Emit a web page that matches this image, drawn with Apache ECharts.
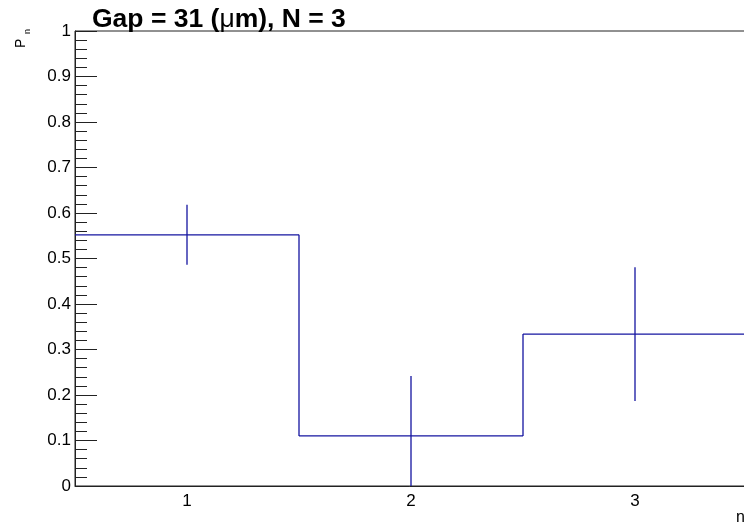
<!DOCTYPE html>
<html>
<head>
<meta charset="utf-8">
<script src="https://cdn.jsdelivr.net/npm/echarts@6/dist/echarts.min.js"></script>
<style>html,body{margin:0;padding:0;background:#fff;}#c{width:744px;height:532px;}</style>
</head>
<body>
<div id="c"></div>
<script>
var categories = ['1', '2', '3'];
var values = [0.552, 0.110, 0.334];
var errors = [0.066, 0.132, 0.147];
var yTicks = [0, 0.1, 0.2, 0.3, 0.4, 0.5, 0.6, 0.7, 0.8, 0.9, 1];

var chart = echarts.init(document.getElementById('c'), null, {renderer: 'canvas'});
var lineColor = '#1414a0';
var font = '"Liberation Sans", Arial, Helvetica, sans-serif';

var seriesData = values.map(function (v, i) { return [i, v, errors[i]]; });

function renderItem(params, api) {
  var i = api.value(0);
  var v = api.value(1);
  var e = api.value(2);
  var c = api.coord([i, v]);
  var half = api.size([1, 0])[0] / 2;
  var children = [];
  var style = {stroke: lineColor, lineWidth: 1.3, fill: null};
  children.push({type: 'line', shape: {x1: c[0] - half, y1: c[1], x2: c[0] + half, y2: c[1]}, style: style});
  if (i > 0) {
    var p = api.coord([i, values[i - 1]]);
    children.push({type: 'line', shape: {x1: c[0] - half, y1: p[1], x2: c[0] - half, y2: c[1]}, style: style});
  }
  var lo = api.coord([i, Math.max(0, v - e)]);
  var hi = api.coord([i, v + e]);
  children.push({type: 'line', shape: {x1: c[0], y1: lo[1], x2: c[0], y2: hi[1]}, style: style});
  return {type: 'group', children: children};
}

var option = {
  animation: false,
  backgroundColor: '#fff',
  grid: {left: 75, top: 31, width: 672, height: 455, show: true, borderColor: '#222', borderWidth: 1,
    backgroundColor: 'transparent', containLabel: false, outerBoundsMode: 'none'},
  title: {
    left: 87, top: 1,
    text: '{b|Gap = 31 (}{m|\u03bc}{b|m), N = 3}',
    textStyle: {
      rich: {
        b: {fontFamily: font, fontWeight: 'bold', fontSize: 26.5, color: '#000'},
        m: {fontFamily: font, fontWeight: 'normal', fontSize: 26.5, color: '#000'}
      }
    }
  },
  xAxis: {
    type: 'category',
    data: categories,
    boundaryGap: true,
    axisLine: {lineStyle: {color: '#222', width: 1}},
    axisTick: {inside: true, length: 13, lineStyle: {color: '#222'}},
    axisLabel: {margin: 7, fontFamily: font, fontSize: 17, color: '#000'},
    splitLine: {show: false}
  },
  yAxis: {
    type: 'value',
    min: 0, max: 1, interval: 0.1,
    axisLine: {show: true, lineStyle: {color: '#222', width: 1}},
    axisTick: {show: true, inside: true, length: 22, lineStyle: {color: '#222'}},
    minorTick: {show: true, splitNumber: 5, length: 12, lineStyle: {color: '#222'}},
    axisLabel: {margin: 4, fontFamily: font, fontSize: 17, color: '#000',
      formatter: function (v) { var t = yTicks.filter(function (x) { return Math.abs(x - v) < 1e-9; }); return t.length ? String(t[0]) : ''; }},
    splitLine: {show: false}
  },
  graphic: [
    {type: 'text', x: 28, y: 48, rotation: Math.PI / 2,
      style: {text: 'P', font: '14px ' + font, fill: '#000', textAlign: 'left', textVerticalAlign: 'bottom'}},
    {type: 'text', x: 32, y: 34, rotation: Math.PI / 2,
      style: {text: 'n', font: '9px ' + font, fill: '#000', textAlign: 'left', textVerticalAlign: 'bottom'}},
    {type: 'text', x: 736, y: 510,
      style: {text: 'n', font: '16px ' + font, fill: '#000', textAlign: 'left', textVerticalAlign: 'top'}}
  ],
  series: [{
    type: 'custom',
    renderItem: renderItem,
    data: seriesData,
    encode: {x: 0, y: 1},
    clip: true
  }]
};
chart.setOption(option);
</script>
</body>
</html>
